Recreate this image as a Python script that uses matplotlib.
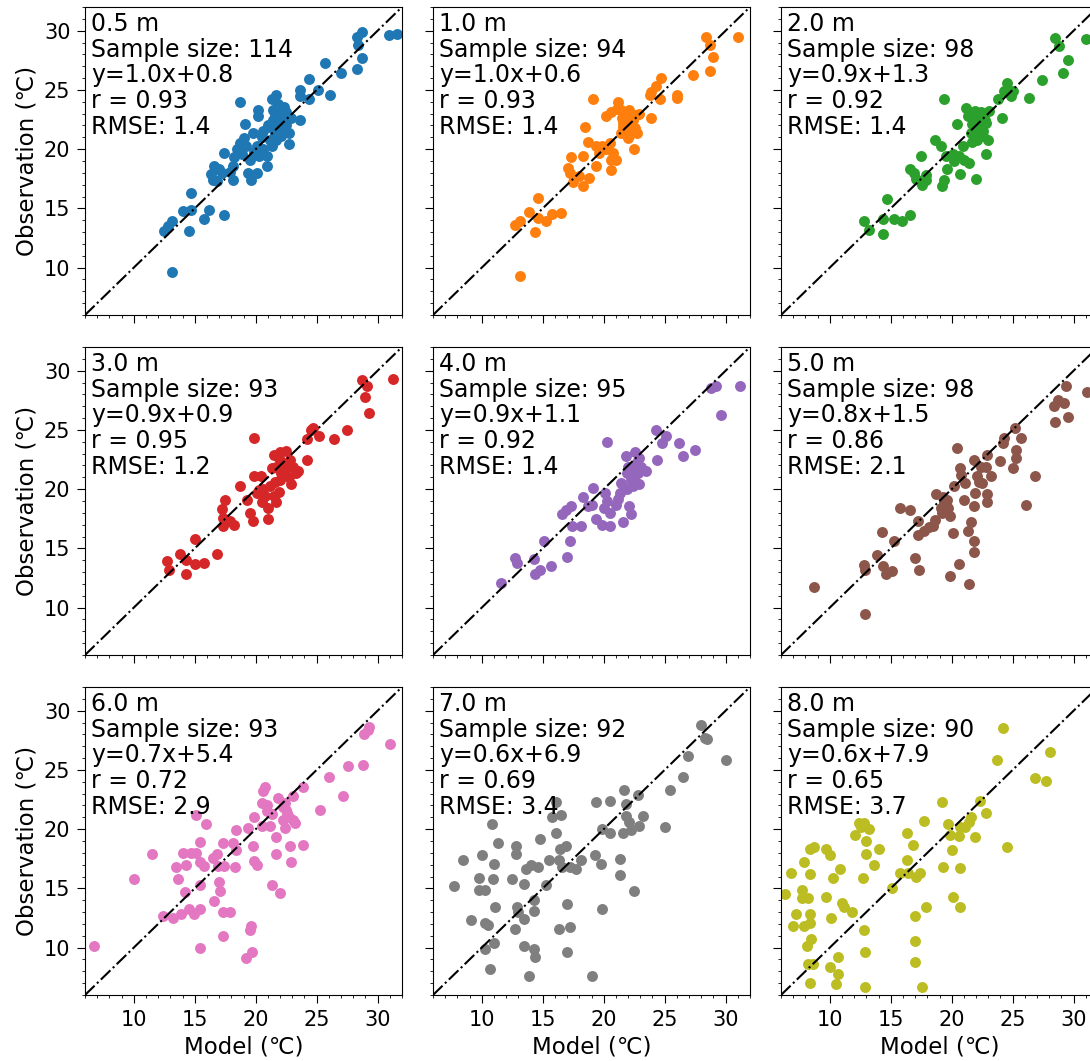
import numpy as np
import matplotlib.pyplot as plt
from matplotlib.ticker import MultipleLocator

# panel labels and fit statistics
depths = ['0.5 m', '1.0 m', '2.0 m', '3.0 m', '4.0 m', '5.0 m', '6.0 m', '7.0 m', '8.0 m']
sample_size = [114, 94, 98, 93, 95, 98, 93, 92, 90]
slope = [1.0, 1.0, 0.9, 0.9, 0.9, 0.8, 0.7, 0.6, 0.6]
intercept = [0.8, 0.6, 1.3, 0.9, 1.1, 1.5, 5.4, 6.9, 7.9]
r_value = [0.93, 0.93, 0.92, 0.95, 0.92, 0.86, 0.72, 0.69, 0.65]
rmse = [1.4, 1.4, 1.4, 1.2, 1.4, 2.1, 2.9, 3.4, 3.7]

# (model, observation) pairs
pts_05 = [(13.1, 9.6), (12.5, 13.1), (12.8, 13.5), (13.1, 13.9), (14.5, 13.1), (14.7, 16.3),
          (14.0, 14.8), (14.7, 14.9), (15.8, 14.1), (16.2, 14.9), (17.4, 14.4), (16.5, 17.4),
          (16.6, 18.6), (17.2, 18.0), (17.4, 19.7), (17.9, 18.1), (18.1, 18.6), (18.5, 20.0),
          (18.7, 20.5), (19.1, 22.1), (18.7, 24.0), (19.2, 20.3), (19.4, 18.0), (19.6, 17.4),
          (19.5, 19.1), (19.8, 21.4), (20.1, 20.3), (20.2, 23.3), (20.2, 22.8), (20.3, 19.4),
          (20.6, 20.0), (20.9, 19.4), (20.9, 18.6), (20.1, 18.0), (21.2, 20.8), (21.3, 24.2),
          (21.4, 23.3), (21.7, 24.6), (21.4, 22.5), (22.0, 23.3), (22.0, 22.5), (22.0, 21.7),
          (22.1, 21.1), (21.6, 21.4), (22.4, 22.8), (22.7, 21.4), (22.7, 20.4), (22.5, 22.0),
          (21.7, 20.8), (21.2, 21.9), (23.6, 22.5), (23.6, 25.0), (23.6, 24.5), (24.4, 24.2),
          (24.4, 25.9), (25.1, 25.0), (26.1, 24.6), (25.7, 27.3), (27.0, 26.4), (28.3, 26.8),
          (28.7, 27.7), (28.3, 29.5), (28.7, 29.9), (28.4, 28.8), (30.9, 29.6), (31.6, 29.7),
          (18.1, 17.4), (16.8, 17.3), (16.3, 17.9), (17.0, 18.3), (18.9, 19.6), (19.9, 19.8),
          (20.5, 21.0), (21.0, 22.0), (21.8, 23.8), (22.3, 23.6), (21.5, 21.8), (22.9, 22.6),
          (18.2, 19.3), (19.0, 20.9), (21.6, 23.0), (22.2, 22.0), (21.9, 21.6), (21.3, 20.3),
          (20.6, 21.5), (22.5, 23.1)]
pts_10 = [(13.1, 9.3), (12.7, 13.6), (13.1, 13.9), (14.4, 13.0), (14.6, 15.9), (13.9, 14.7),
          (14.6, 14.2), (15.3, 13.9), (15.8, 14.5), (16.5, 14.6), (17.3, 19.3), (17.2, 18.0),
          (17.5, 17.2), (18.3, 16.9), (18.3, 19.4), (18.0, 17.7), (18.8, 17.6), (18.5, 21.9),
          (19.1, 24.2), (19.4, 18.6), (19.4, 20.3), (19.6, 19.7), (20.2, 20.0), (20.6, 19.1),
          (20.6, 18.2), (21.0, 19.1), (20.2, 22.8), (20.6, 23.1), (21.2, 24.0), (21.4, 23.3),
          (21.6, 22.2), (21.8, 22.8), (22.1, 23.3), (22.4, 22.5), (21.8, 21.7), (22.7, 21.4),
          (22.1, 21.1), (21.4, 21.4), (22.5, 20.0), (22.9, 23.0), (23.9, 22.6), (23.8, 24.6),
          (23.9, 24.8), (24.3, 25.3), (24.7, 26.0), (24.6, 24.2), (26.0, 24.6), (26.0, 24.3),
          (27.3, 26.3), (28.4, 29.5), (28.7, 28.8), (29.0, 27.8), (28.7, 26.6), (31.0, 29.5),
          (19.9, 20.3), (20.8, 19.7), (20.5, 20.5), (17.1, 18.4), (17.6, 17.6), (21.9, 22.0),
          (22.3, 21.8), (21.5, 22.6), (22.0, 21.5), (22.6, 22.9), (21.1, 23.4), (18.7, 20.6),
          (21.9, 23.1), (22.2, 22.2), (22.6, 21.8), (21.6, 21.9), (22.0, 20.9)]
pts_20 = [(12.8, 13.9), (13.2, 13.2), (14.4, 12.8), (14.7, 15.8), (14.4, 14.1), (15.3, 14.1),
          (15.9, 13.9), (16.6, 14.4), (16.6, 18.3), (16.9, 18.0), (17.5, 19.4), (17.4, 17.3),
          (17.9, 17.4), (17.6, 17.0), (18.6, 20.8), (19.1, 20.3), (19.2, 16.9), (19.4, 17.4),
          (19.6, 18.3), (19.5, 19.4), (20.1, 19.6), (20.6, 19.4), (20.9, 20.3), (21.0, 19.1),
          (21.4, 18.8), (20.7, 17.9), (22.0, 17.5), (20.4, 22.1), (19.4, 24.2), (21.2, 23.5),
          (21.3, 22.8), (21.9, 23.2), (22.4, 23.1), (22.7, 22.5), (22.1, 21.9), (21.6, 21.4),
          (22.6, 21.1), (23.0, 20.8), (22.1, 20.8), (22.8, 19.6), (23.1, 23.2), (24.1, 22.6),
          (23.8, 24.2), (24.3, 24.9), (24.5, 25.6), (24.9, 24.5), (25.0, 24.9), (26.3, 24.3),
          (27.4, 25.8), (28.5, 29.4), (28.8, 28.7), (29.5, 27.5), (29.1, 26.4), (31.0, 29.3),
          (22.0, 22.3), (21.8, 22.6), (22.5, 22.0), (21.7, 20.6), (17.9, 17.8), (20.2, 19.0),
          (22.3, 21.5), (21.9, 21.2), (22.8, 22.2), (17.1, 17.5), (21.5, 22.9), (22.2, 22.7),
          (22.6, 21.5), (21.7, 22.1)]
pts_30 = [(12.7, 13.9), (12.9, 13.2), (13.8, 14.5), (14.3, 12.8), (15.0, 13.7), (15.0, 15.8),
          (14.3, 14.0), (15.8, 13.8), (16.8, 14.5), (17.2, 18.3), (17.3, 16.9), (17.5, 19.1),
          (17.9, 17.3), (18.2, 17.0), (18.7, 20.3), (19.3, 19.1), (19.5, 18.0), (19.8, 17.3),
          (19.9, 21.1), (20.4, 21.1), (20.1, 19.7), (20.5, 18.9), (20.8, 19.4), (21.0, 18.4),
          (21.0, 17.5), (21.2, 20.3), (21.5, 19.4), (21.7, 18.9), (21.9, 19.8), (19.9, 24.3),
          (21.5, 22.9), (21.7, 21.9), (22.0, 23.1), (22.5, 23.2), (22.1, 21.4), (22.7, 21.0),
          (23.1, 21.9), (23.3, 21.4), (23.5, 21.5), (22.8, 22.5), (22.0, 20.8), (24.2, 22.5),
          (24.2, 24.2), (24.5, 25.0), (24.7, 25.2), (25.2, 24.5), (26.4, 24.2), (27.5, 25.0),
          (28.7, 29.2), (29.1, 28.7), (29.0, 27.8), (29.3, 26.4), (31.3, 29.3), (20.6, 20.0),
          (21.6, 20.6), (22.3, 22.2), (22.9, 20.4), (21.3, 21.8), (20.3, 19.9), (22.4, 21.7),
          (21.9, 22.6), (17.3, 17.6)]
pts_40 = [(11.6, 12.1), (12.7, 14.2), (12.9, 13.8), (14.3, 14.1), (14.4, 12.8), (14.8, 13.2),
          (15.7, 13.5), (15.1, 15.6), (17.0, 14.3), (17.2, 15.6), (16.6, 17.9), (17.3, 18.6),
          (17.4, 16.9), (18.1, 16.9), (18.3, 19.3), (19.1, 20.1), (19.0, 18.7), (19.4, 17.5),
          (19.9, 17.0), (20.1, 19.7), (20.3, 19.0), (20.5, 18.0), (20.5, 16.9), (21.0, 18.7),
          (21.3, 19.7), (21.4, 20.5), (21.6, 17.2), (22.1, 18.6), (22.2, 17.9), (21.8, 22.8),
          (21.9, 21.4), (22.2, 20.8), (22.4, 21.9), (22.6, 23.1), (22.8, 21.4), (23.1, 21.9),
          (22.9, 20.4), (23.5, 21.5), (22.4, 20.3), (20.3, 24.0), (24.3, 25.0), (24.4, 22.5),
          (24.8, 23.9), (25.1, 24.5), (26.2, 23.9), (26.5, 22.8), (27.5, 23.3), (28.8, 28.5),
          (29.2, 28.7), (29.6, 26.3), (31.2, 28.7), (22.0, 21.9), (22.7, 22.3), (21.9, 20.0),
          (22.5, 20.9), (20.0, 18.4), (21.2, 19.2), (18.7, 18.6), (16.9, 18.2), (22.9, 22.6)]
pts_50 = [(8.7, 11.7), (12.9, 9.5), (12.8, 13.6), (12.9, 13.2), (13.9, 14.4), (14.3, 16.4),
          (14.4, 13.5), (14.6, 12.8), (15.1, 13.1), (15.3, 15.6), (15.8, 18.4), (16.6, 18.2),
          (17.2, 17.3), (17.2, 16.1), (17.0, 14.2), (17.3, 13.2), (17.7, 16.5), (18.1, 16.8),
          (18.5, 16.9), (18.7, 19.6), (19.1, 18.4), (19.4, 18.9), (19.2, 18.0), (19.6, 19.1),
          (19.9, 17.7), (20.1, 16.3), (19.9, 12.7), (20.2, 20.3), (20.6, 13.7), (20.4, 23.5),
          (20.7, 21.8), (21.0, 19.1), (21.1, 20.5), (21.3, 16.5), (21.6, 17.2), (21.4, 12.0),
          (21.8, 22.5), (21.9, 19.7), (21.8, 18.6), (21.8, 15.6), (21.8, 14.7), (22.1, 21.1),
          (22.4, 21.9), (22.5, 20.5), (22.8, 21.9), (22.9, 22.9), (23.2, 21.1), (22.9, 19.6),
          (22.9, 18.9), (24.0, 22.4), (24.3, 24.3), (24.2, 23.9), (25.0, 21.8), (25.2, 25.2),
          (25.3, 23.3), (25.7, 24.3), (25.3, 22.6), (26.1, 18.7), (26.8, 21.1), (28.4, 27.0),
          (28.7, 27.5), (29.2, 27.3), (29.4, 28.7), (29.5, 26.1), (28.5, 25.7), (31.1, 28.2),
          (19.3, 19.3), (22.2, 20.6), (20.8, 21.2), (18.6, 17.4), (19.7, 18.4)]
pts_60 = [(6.7, 10.1), (10.05, 15.8), (11.5, 17.9), (12.4, 12.7), (13.2, 12.5), (13.5, 16.8),
          (13.6, 15.8), (14.0, 18.0), (14.3, 17.0), (14.2, 14.7), (13.9, 12.8), (14.5, 13.3),
          (14.9, 12.8), (14.7, 18.0), (15.1, 18.0), (15.1, 21.2), (15.4, 18.9), (15.4, 17.2),
          (15.4, 15.3), (15.4, 13.3), (15.4, 10.0), (15.9, 20.4), (15.8, 16.9), (16.5, 17.6),
          (16.6, 13.9), (16.8, 17.9), (16.9, 16.9), (17.0, 15.5), (17.1, 14.8), (17.3, 13.0),
          (17.3, 11.0), (17.3, 18.8), (17.4, 16.9), (17.9, 13.0), (18.1, 18.8), (18.3, 16.8),
          (18.4, 19.9), (18.4, 18.2), (19.2, 9.1), (19.5, 11.5), (19.6, 11.8), (19.7, 9.6),
          (19.4, 20.1), (19.8, 18.6), (19.9, 17.3), (20.1, 17.0), (19.9, 21.0), (20.5, 20.3),
          (20.5, 22.2), (20.6, 23.2), (20.8, 23.6), (20.9, 21.5), (21.2, 20.3), (21.3, 21.3),
          (21.3, 15.3), (21.7, 19.3), (21.7, 17.9), (21.8, 22.6), (22.0, 14.6), (22.2, 21.9),
          (22.2, 20.8), (22.4, 20.1), (22.5, 21.6), (22.6, 21.4), (22.8, 18.6), (22.9, 17.2),
          (23.1, 22.8), (23.1, 20.8), (23.2, 20.5), (23.9, 23.6), (23.9, 18.7), (25.3, 21.6),
          (26.0, 24.4), (27.2, 22.8), (27.6, 25.3), (28.8, 25.4), (28.9, 28.0), (29.2, 28.4),
          (29.3, 28.6), (31.0, 27.2), (22.7, 21.0), (22.4, 22.2), (20.9, 22.0)]
pts_70 = [(7.7, 15.2), (8.5, 17.4), (9.1, 12.3), (9.8, 15.9), (9.8, 14.9), (10.3, 14.9),
          (10.05, 17.8), (10.3, 12.1), (10.5, 11.9), (10.3, 9.9), (10.7, 8.2), (10.8, 20.4),
          (10.9, 15.8), (11.0, 17.1), (11.1, 13.4), (11.0, 10.4), (11.3, 18.8), (12.5, 15.8),
          (12.8, 18.6), (12.8, 17.9), (12.7, 11.6), (12.9, 13.4), (13.0, 13.0), (13.5, 12.4),
          (13.5, 15.4), (13.5, 10.1), (13.6, 16.6), (13.9, 7.6), (14.0, 17.0), (14.3, 14.0),
          (14.3, 13.1), (14.3, 9.9), (14.4, 9.2), (14.6, 16.8), (14.8, 19.2), (15.3, 15.3),
          (15.5, 17.4), (15.8, 21.0), (16.1, 22.3), (16.1, 19.7), (16.3, 17.4), (16.3, 11.6),
          (16.4, 18.3), (16.5, 21.2), (16.6, 16.8), (16.9, 18.6), (17.0, 13.7), (17.0, 9.6),
          (17.2, 11.7), (17.2, 16.8), (17.7, 16.6), (18.1, 17.4), (19.0, 7.6), (19.3, 17.8),
          (19.4, 22.3), (19.8, 17.1), (19.9, 13.3), (19.9, 20.0), (20.5, 19.7), (20.5, 22.4),
          (21.3, 17.5), (21.3, 16.1), (21.7, 23.3), (21.6, 19.7), (21.8, 21.1), (21.8, 22.1),
          (22.2, 19.9), (22.1, 20.6), (22.5, 14.8), (22.8, 22.9), (22.9, 20.3), (23.2, 21.1),
          (25.0, 20.2), (25.4, 23.3), (26.5, 24.4), (26.9, 26.2), (28.0, 28.8), (28.3, 27.7),
          (28.5, 27.6), (30.05, 25.8)]
pts_80 = [(6.3, 14.5), (6.8, 16.3), (7.0, 11.8), (7.2, 12.8), (7.7, 14.9), (7.7, 14.2),
          (7.9, 17.2), (7.9, 11.8), (8.1, 10.1), (8.2, 14.2), (8.4, 18.3), (8.4, 16.2),
          (8.4, 12.8), (8.4, 12.1), (8.5, 10.7), (8.2, 8.6), (8.6, 8.6), (8.4, 7.0),
          (8.7, 18.5), (9.7, 14.3), (9.7, 18.3), (10.0, 17.8), (10.0, 8.4), (10.1, 12.5),
          (10.3, 15.9), (10.5, 6.9), (10.7, 9.2), (10.7, 7.8), (10.8, 16.6), (11.0, 13.8),
          (11.2, 13.4), (11.8, 13.0), (12.1, 19.5), (12.5, 20.4), (12.8, 20.5), (12.7, 15.9),
          (12.8, 11.5), (12.9, 9.6), (12.9, 6.7), (13.0, 19.0), (13.0, 17.9), (13.2, 20.0),
          (13.6, 17.0), (14.0, 18.3), (15.1, 15.0), (15.8, 16.3), (16.3, 19.7), (16.3, 17.4),
          (16.4, 16.3), (16.8, 18.7), (17.0, 12.7), (17.0, 10.6), (17.0, 8.8), (17.1, 16.0),
          (17.4, 16.3), (17.6, 6.7), (17.7, 20.7), (17.9, 13.4), (19.2, 22.3), (19.3, 16.8),
          (19.7, 20.4), (19.9, 19.5), (20.0, 18.2), (20.1, 14.3), (20.6, 19.4), (20.7, 16.7),
          (20.7, 13.4), (20.7, 20.2), (21.1, 20.2), (21.4, 20.6), (21.6, 21.0), (21.9, 19.3),
          (22.3, 22.4), (22.8, 21.4), (23.7, 25.8), (24.2, 28.5), (24.5, 18.5), (26.8, 24.3),
          (27.7, 24.1), (28.1, 26.5), (12.6, 20.2), (12.4, 20.5)]

panels = [pts_05, pts_10, pts_20, pts_30, pts_40, pts_50, pts_60, pts_70, pts_80]
colors = plt.rcParams['axes.prop_cycle'].by_key()['color']

fig = plt.figure(figsize=(10.9, 10.61), dpi=100)
W, H = 1090.0, 1061.0
col_left = [85, 433, 781]
row_top = [7, 347, 687]
ax_w, ax_h = 317, 308

lo, hi = 6, 32
for i in range(9):
    row, col = i // 3, i % 3
    ax = fig.add_axes([col_left[col] / W, 1 - (row_top[row] + ax_h) / H, ax_w / W, ax_h / H])
    xy = np.array(panels[i])
    ax.scatter(xy[:, 0], xy[:, 1], s=62, color=colors[i], linewidths=0, zorder=2)
    ax.plot([lo, hi], [lo, hi], 'k-.', lw=1.5, zorder=3)
    ax.set_xlim(lo, hi)
    ax.set_ylim(lo, hi)
    ax.xaxis.set_major_locator(MultipleLocator(5))
    ax.yaxis.set_major_locator(MultipleLocator(5))
    ax.xaxis.set_minor_locator(MultipleLocator(1))
    ax.yaxis.set_minor_locator(MultipleLocator(1))
    ax.tick_params(which='major', labelsize=15, length=5.5, pad=5)
    ax.tick_params(which='minor', length=2.5)

    txt = "{}\nSample size: {}\ny={:.1f}x+{:.1f}\nr = {:.2f}\nRMSE: {:.1f}".format(
        depths[i], sample_size[i], slope[i], intercept[i], r_value[i], rmse[i])
    ax.text(0.02, 0.985, txt, transform=ax.transAxes, va='top', ha='left', fontsize=17,
            linespacing=1.1, zorder=4)

    if col == 0:
        ax.set_ylabel('Observation (\u2103)', fontsize=16.5)
    else:
        ax.set_yticklabels([])
    if row == 2:
        ax.set_xlabel('Model (\u2103)', fontsize=16.5)
    else:
        ax.set_xticklabels([])

fig.savefig('out.png', dpi=100)
